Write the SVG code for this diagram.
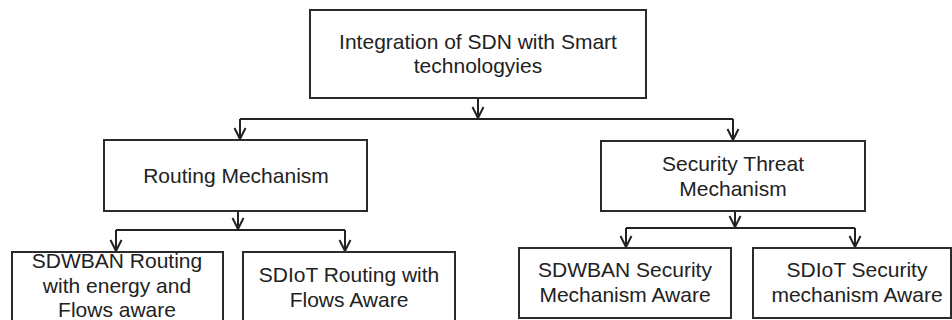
<svg xmlns="http://www.w3.org/2000/svg" width="952" height="320" viewBox="0 0 952 320">
  <defs>
    <style>
      .box { fill: #ffffff; stroke: #2b2b2b; stroke-width: 2; }
      .lbl { font-family: "Liberation Sans", Arial, sans-serif; font-size: 21px; fill: #222222; text-anchor: middle; }
      .wire { fill: none; stroke: #222222; stroke-width: 2; }
    </style>
    <!-- open V arrowhead, tip at the end of the line -->
    <marker id="vee" markerUnits="userSpaceOnUse" markerWidth="16" markerHeight="16" viewBox="-14 -8 16 16" refX="0" refY="0" orient="auto">
      <path d="M -11 -5.5 L 0 0 L -11 5.5" fill="none" stroke="#222222" stroke-width="2" stroke-linejoin="miter"/>
    </marker>
  </defs>
  <rect width="952" height="320" fill="#ffffff"/>

  <!-- connectors -->
  <g id="connectors" class="wire">
    <line x1="478" y1="98" x2="478" y2="118" marker-end="url(#vee)"/>
    <line x1="240" y1="119" x2="733" y2="119"/>
    <line x1="240" y1="119" x2="240" y2="139" marker-end="url(#vee)"/>
    <line x1="733" y1="119" x2="733" y2="140" marker-end="url(#vee)"/>

    <line x1="238" y1="211" x2="238" y2="229" marker-end="url(#vee)"/>
    <line x1="116" y1="230" x2="345" y2="230"/>
    <line x1="116" y1="230" x2="116" y2="251" marker-end="url(#vee)"/>
    <line x1="345" y1="230" x2="345" y2="251" marker-end="url(#vee)"/>

    <line x1="735" y1="211" x2="735" y2="227" marker-end="url(#vee)"/>
    <line x1="626" y1="228" x2="855" y2="228"/>
    <line x1="626" y1="228" x2="626" y2="247" marker-end="url(#vee)"/>
    <line x1="855" y1="228" x2="855" y2="247" marker-end="url(#vee)"/>
  </g>

  <g id="root">
    <rect class="box" x="310" y="10" width="336" height="88"/>
    <text class="lbl" x="478" y="49">Integration of SDN with Smart</text>
    <text class="lbl" x="478" y="73">technologyies</text>
  </g>

  <g id="routing">
    <rect class="box" x="104" y="140" width="263" height="71"/>
    <text class="lbl" x="236" y="183">Routing Mechanism</text>
  </g>

  <g id="security">
    <rect class="box" x="601" y="141" width="264" height="70"/>
    <text class="lbl" x="733" y="171">Security Threat</text>
    <text class="lbl" x="733" y="196">Mechanism</text>
  </g>

  <g id="sdwban-routing">
    <rect class="box" x="12" y="252" width="211" height="80"/>
    <text class="lbl" x="117" y="268">SDWBAN Routing</text>
    <text class="lbl" x="117" y="293">with energy and</text>
    <text class="lbl" x="117" y="317">Flows aware</text>
  </g>

  <g id="sdiot-routing">
    <rect class="box" x="243" y="252" width="212" height="80"/>
    <text class="lbl" x="349" y="282">SDIoT Routing with</text>
    <text class="lbl" x="349" y="307">Flows Aware</text>
  </g>

  <g id="sdwban-security">
    <rect class="box" x="519" y="248" width="212" height="70"/>
    <text class="lbl" x="625" y="277">SDWBAN Security</text>
    <text class="lbl" x="625" y="302">Mechanism Aware</text>
  </g>

  <g id="sdiot-security">
    <rect class="box" x="753" y="248" width="198" height="70"/>
    <text class="lbl" x="857" y="277">SDIoT Security</text>
    <text class="lbl" x="857" y="302">mechanism Aware</text>
  </g>
</svg>
